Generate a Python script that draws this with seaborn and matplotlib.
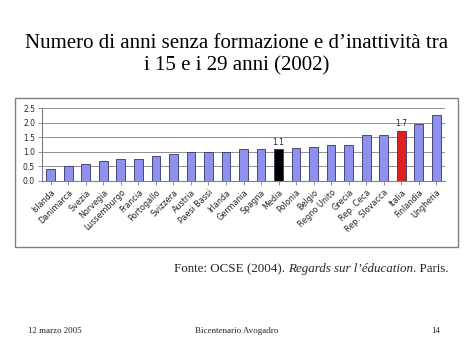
import matplotlib
matplotlib.use("Agg")
import matplotlib.pyplot as plt
import seaborn as sns
import pandas as pd
from matplotlib.patches import Rectangle

paesi = ["Islanda", "Danimarca", "Svezia", "Norvegia", "Lussemburgo", "Francia",
         "Portogallo", "Svizzera", "Austria", "Paesi Bassi", "Irlanda", "Germania",
         "Spagna", "Media", "Polonia", "Belgio", "Regno Unito", "Grecia",
         "Rep. Ceca", "Rep. Slovacca", "Italia", "Finlandia", "Ungheria"]
anni = [0.40, 0.53, 0.57, 0.68, 0.75, 0.77, 0.85, 0.92, 0.98, 0.98, 0.98, 1.08,
        1.09, 1.10, 1.13, 1.15, 1.22, 1.23, 1.57, 1.59, 1.72, 1.95, 2.27]
etichette = {"Media": "1.1", "Italia": "1.7"}
yticks = [0.0, 0.5, 1.0, 1.5, 2.0, 2.5]

base = "#8080ff"
colori = {p: base for p in paesi}
colori["Media"] = "#000000"
colori["Italia"] = "#ff0000"

df = pd.DataFrame({"paese": paesi, "anni": anni})

sns.set_style("white")
plt.rcParams["font.family"] = ["DejaVu Sans"]

fig = plt.figure(figsize=(4.74, 3.55), dpi=100)
fig.patch.set_facecolor("white")

# outer chart frame
fig.patches.append(Rectangle((15 / 474, 1 - 247 / 355), 443 / 474, 149 / 355,
                             transform=fig.transFigure, fill=False,
                             edgecolor="#808080", linewidth=1.0))

ax = fig.add_axes([42 / 474, 1 - 181 / 355, 403 / 474, 73 / 355])
sns.barplot(data=df, x="paese", y="anni", hue="paese", palette=colori,
            legend=False, ax=ax, width=0.5, edgecolor="#333366", linewidth=0.6,
            zorder=3)

ax.set_ylim(0, 2.5)
ax.set_yticks(yticks)
ax.set_yticklabels([f"{v:.1f}" for v in yticks], fontsize=5.5)
ax.yaxis.grid(True, color="#909090", linewidth=0.7, zorder=0)
ax.set_xlabel("")
ax.set_ylabel("")
ax.set_xlim(-0.5, len(paesi) - 0.5)
ax.set_xticks(range(len(paesi)))
ax.set_xticklabels(paesi, rotation=45, ha="right", rotation_mode="anchor",
                   fontsize=5.8)
ax.tick_params(axis="x", length=3, width=0.6, pad=2, color="#808080", bottom=True)
ax.tick_params(axis="y", length=3, width=0.6, pad=2, color="#808080", left=True)
for s in ["top", "right"]:
    ax.spines[s].set_visible(False)
for s in ["left", "bottom"]:
    ax.spines[s].set_color("#808080")
    ax.spines[s].set_linewidth(0.8)

for i, p in enumerate(paesi):
    if p in etichette:
        ax.text(i, anni[i] + 0.08, etichette[p], ha="center", va="bottom",
                fontsize=5.5)

serif = ["Liberation Serif", "DejaVu Serif"]
fig.text(0.5, 1 - 43 / 355, "Numero di anni senza formazione e d\u2019inattività tra",
         ha="center", va="center", fontsize=15, family=serif, color="black")
fig.text(0.5, 1 - 66 / 355, "i 15 e i 29 anni (2002)",
         ha="center", va="center", fontsize=15, family=serif, color="black")

# source line: three pieces (regular, italic, regular), right-aligned at x=449
y_src = 1 - 272 / 355
fig.canvas.draw()
r = fig.canvas.get_renderer()
parts = [("Fonte: OCSE (2004). ", "normal"),
         ("Regards sur l\u2019éducation", "italic"),
         (". Paris.", "normal")]
x_right = 449
for txt, st in reversed(parts):
    t = fig.text(x_right / 474, y_src, txt, ha="right", va="baseline",
                 fontsize=9.4, family=serif, style=st)
    w = t.get_window_extent(renderer=r).width
    x_right -= w

fig.text(28 / 474, 1 - 331 / 355, "12 marzo 2005", ha="left", va="center",
         fontsize=6.5, family=serif)
fig.text(237 / 474, 1 - 331 / 355, "Bicentenario Avogadro", ha="center",
         va="center", fontsize=6.5, family=serif)
fig.text(440 / 474, 1 - 331 / 355, "14", ha="right", va="center",
         fontsize=6.5, family=serif)

fig.savefig("out.png", dpi=100)
